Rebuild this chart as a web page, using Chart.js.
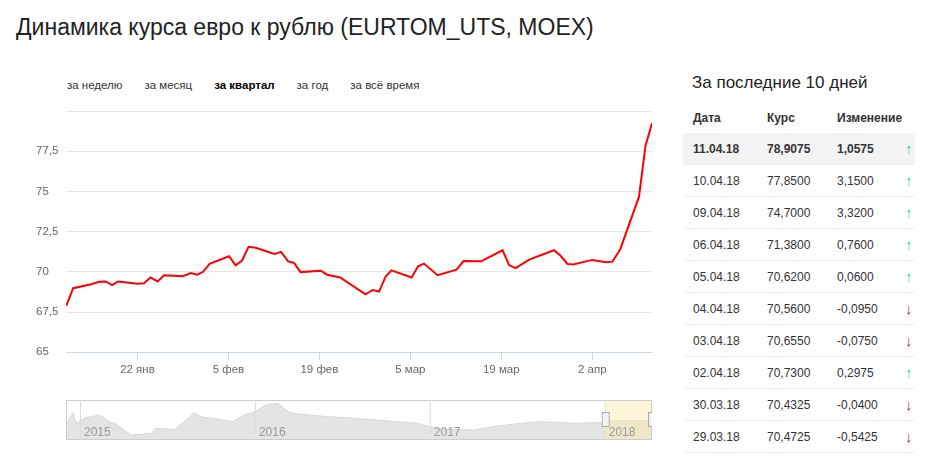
<!DOCTYPE html>
<html lang="ru">
<head>
<meta charset="UTF-8">
<title>EUR/RUB</title>
<style>
    body { margin: 0; width: 932px; height: 474px; background: #fff; font-family: Arial, "Liberation Sans", sans-serif; position: relative; overflow: hidden; }
    h1 { position: absolute; left: 16px; top: 14px; margin: 0; font-size: 23px; font-weight: normal; color: #222; }
    .periods { position: absolute; left: 67px; top: 79px; font-size: 11.5px; color: #333; }
    .periods span { margin-right: 22px; }
    .periods b { color: #000; }
    #mainWrap { position: absolute; left: 30px; top: 100px; width: 622px; height: 280px; }
    #navWrap { position: absolute; left: 66px; top: 400px; width: 586px; height: 40px; }
    .side { position: absolute; left: 683px; top: 73px; width: 232px; }
    .side h2 { margin: 0 0 10px 9px; font-size: 17px; font-weight: normal; color: #222; }
    table { border-collapse: collapse; width: 232px; font-size: 12px; color: #333; }
    td, th { height: 31px; padding: 0 0 0 10px; text-align: left; border-bottom: 1px solid #eee; }
    th { font-weight: bold; height: 30px; border-bottom: none; }
    tr.cur td { background: #f3f3f3; font-weight: bold; }
    .up { color: #2fd3a5; text-align: center; font-size: 15px; font-weight: normal !important; }
    .dn { color: #c2257f; text-align: center; font-size: 15px; font-weight: normal !important; }
</style>
</head>
<body>
<h1>Динамика курса евро к рублю (EURTOM_UTS, MOEX)</h1>
<div class="periods"><span>за неделю</span><span>за месяц</span><span><b>за квартал</b></span><span>за год</span><span>за всё время</span></div>
<div id="mainWrap"><canvas id="mainChart"></canvas></div>
<div id="navWrap"><canvas id="navChart"></canvas></div>
<div class="side">
    <h2>За последние 10 дней</h2>
    <table id="tbl"></table>
</div>
<script src="https://cdn.jsdelivr.net/npm/chart.js@4/dist/chart.umd.min.js"></script>
<script>
// day of year 2018 for each point, and the rate
const days = [11.05, 12.1, 14.9, 16.1, 17.1, 18.1, 19.0, 22.0, 23.0, 24.0, 25.1, 26.1, 29.0, 30.2, 31.2, 32.1, 33.1, 36.1, 37.1, 38.1,
    39.1, 40.2, 43.1, 44.1, 45.2, 46.1, 47.1, 50.2, 51.2, 53.2, 57.1, 58.2, 59.2, 60.2, 61.1, 64.2, 65.2, 66.1, 68.2, 71.1,
    72.2, 74.9, 78.2, 79.2, 80.2, 82.3, 86.1, 87.1, 88.2, 89.1, 92.0, 94.1, 95.1, 96.3, 99.2, 100.2, 101.2];
const rates = [67.89, 68.98, 69.23, 69.38, 69.40, 69.17, 69.40, 69.25, 69.29, 69.65, 69.40, 69.79, 69.73, 69.92, 69.82, 70.00, 70.49, 70.97, 70.40, 70.70,
    71.55, 71.49, 71.11, 71.24, 70.65, 70.55, 69.98, 70.07, 69.82, 69.65, 68.60, 68.87, 68.77, 69.71, 70.09, 69.65, 70.34, 70.51, 69.79, 70.13,
    70.67, 70.65, 71.34, 70.42, 70.23, 70.76, 71.34, 71.01, 70.49, 70.46, 70.74, 70.59, 70.63, 71.39, 74.67, 77.84, 79.24];
const tickDays = [22, 36, 50, 64, 78, 92];
const tickLabels = ['22 янв', '5 фев', '19 фев', '5 мар', '19 мар', '2 апр'];

// overview navigator (2015–2018)
const navYears = [2014.92, 2014.96, 2014.98, 2015.02, 2015.11, 2015.17, 2015.21, 2015.29, 2015.41, 2015.43, 2015.54, 2015.61, 2015.65, 2015.69,
    2015.76, 2015.87, 2015.94, 2016.0, 2016.06, 2016.13, 2016.20, 2016.31, 2016.42, 2016.57, 2016.75, 2016.93, 2017.0, 2017.08,
    2017.25, 2017.36, 2017.52, 2017.63, 2017.85, 2018.0, 2018.07, 2018.24, 2018.27];
const navLevel = [45, 82, 50, 65, 75, 55, 47, 15, 20, 35, 32, 60, 82, 70, 65, 55, 75, 85, 105, 110, 82, 75, 70, 65, 58, 50, 40, 32,
    30, 40, 50, 55, 50, 53, 58, 58, 60];
const yearTicks = [2015, 2016, 2017, 2018];

const table = [
    ['11.04.18', '78,9075', '1,0575', 1], ['10.04.18', '77,8500', '3,1500', 1], ['09.04.18', '74,7000', '3,3200', 1],
    ['06.04.18', '71,3800', '0,7600', 1], ['05.04.18', '70,6200', '0,0600', 1], ['04.04.18', '70,5600', '-0,0950', 0],
    ['03.04.18', '70,6550', '-0,0750', 0], ['02.04.18', '70,7300', '0,2975', 1], ['30.03.18', '70,4325', '-0,0400', 0],
    ['29.03.18', '70,4725', '-0,5425', 0]
];

let html = '<tr><th>Дата</th><th>Курс</th><th colspan="2">Изменение</th></tr>';
table.forEach((r, i) => {
    html += '<tr' + (i === 0 ? ' class="cur"' : '') + '><td style="width:64px">' + r[0] + '</td><td style="width:60px">' + r[1] +
        '</td><td>' + r[2] + '</td><td class="' + (r[3] ? 'up' : 'dn') + '">' + (r[3] ? '↑' : '↓') + '</td></tr>';
});
document.getElementById('tbl').innerHTML = html;

new Chart(document.getElementById('mainChart'), {
    type: 'line',
    data: {
        datasets: [{
            data: days.map((d, i) => ({ x: d, y: rates[i] })),
            borderColor: '#f00',
            borderWidth: 2,
            pointRadius: 0,
            tension: 0
        }]
    },
    options: {
        responsive: true,
        maintainAspectRatio: false,
        animation: false,
        layout: { padding: { top: 11, right: 0, left: 6 } },
        plugins: { legend: { display: false }, tooltip: { enabled: false } },
        scales: {
            x: {
                type: 'linear', min: 11, max: 101.2,
                afterBuildTicks: s => { s.ticks = tickDays.map(v => ({ value: v })); },
                ticks: {
                    autoSkip: false, maxRotation: 0, color: '#666', font: { size: 11.5 },
                    callback: v => tickLabels[tickDays.indexOf(v)]
                },
                grid: { drawOnChartArea: false, color: '#ccd6eb', tickLength: 8 },
                border: { color: '#ccd6eb' }
            },
            y: {
                min: 65, max: 80,
                afterFit: s => { s.width = 30; },
                afterBuildTicks: s => { s.ticks = [65, 67.5, 70, 72.5, 75, 77.5, 80].map(v => ({ value: v })); },
                ticks: {
                    color: '#666', font: { size: 11.5 }, crossAlign: 'far', padding: 0,
                    callback: v => v === 80 ? '' : String(v).replace('.', ',')
                },
                grid: { color: '#e6e6e6', drawTicks: false },
                border: { display: false }
            }
        }
    }
});

const navDecor = {
    id: 'navDecor',
    afterDraw(chart) {
        const { ctx, chartArea: a, scales: { x } } = chart;
        ctx.save();
        const sx = x.getPixelForValue(2018.0);
        ctx.fillStyle = 'rgba(255,236,170,0.45)';
        ctx.fillRect(sx, a.top, a.right - sx, a.bottom - a.top);
        ctx.strokeStyle = '#ccc';
        ctx.strokeRect(a.left + 0.5, a.top + 0.5, a.right - a.left - 1, a.bottom - a.top - 1);
        ctx.font = '12px Arial';
        ctx.fillStyle = '#999';
        yearTicks.forEach(y => {
            const px = x.getPixelForValue(y);
            ctx.beginPath(); ctx.moveTo(px + 0.5, a.top); ctx.lineTo(px + 0.5, a.bottom);
            ctx.strokeStyle = '#ddd'; ctx.stroke();
            ctx.fillText(String(y), px + 4, a.bottom - 4);
        });
        [sx - 3, a.right - 4].forEach(hx => {
            ctx.fillStyle = '#f2f2f2'; ctx.strokeStyle = '#aaa';
            ctx.fillRect(hx, a.top + 12, 7, 14); ctx.strokeRect(hx + 0.5, a.top + 12.5, 7, 14);
        });
        ctx.restore();
    }
};

new Chart(document.getElementById('navChart'), {
    type: 'line',
    data: {
        datasets: [{
            data: navYears.map((y, i) => ({ x: y, y: navLevel[i] })),
            borderColor: '#d8d8d8', borderWidth: 1,
            backgroundColor: '#e4e4e4', fill: 'origin',
            pointRadius: 0, tension: 0
        }]
    },
    options: {
        responsive: true, maintainAspectRatio: false, animation: false,
        plugins: { legend: { display: false }, tooltip: { enabled: false } },
        scales: {
            x: { type: 'linear', min: 2014.92, max: 2018.27, display: false },
            y: { min: 0, max: 120, display: false }
        }
    },
    plugins: [navDecor]
});
</script>
</body>
</html>
